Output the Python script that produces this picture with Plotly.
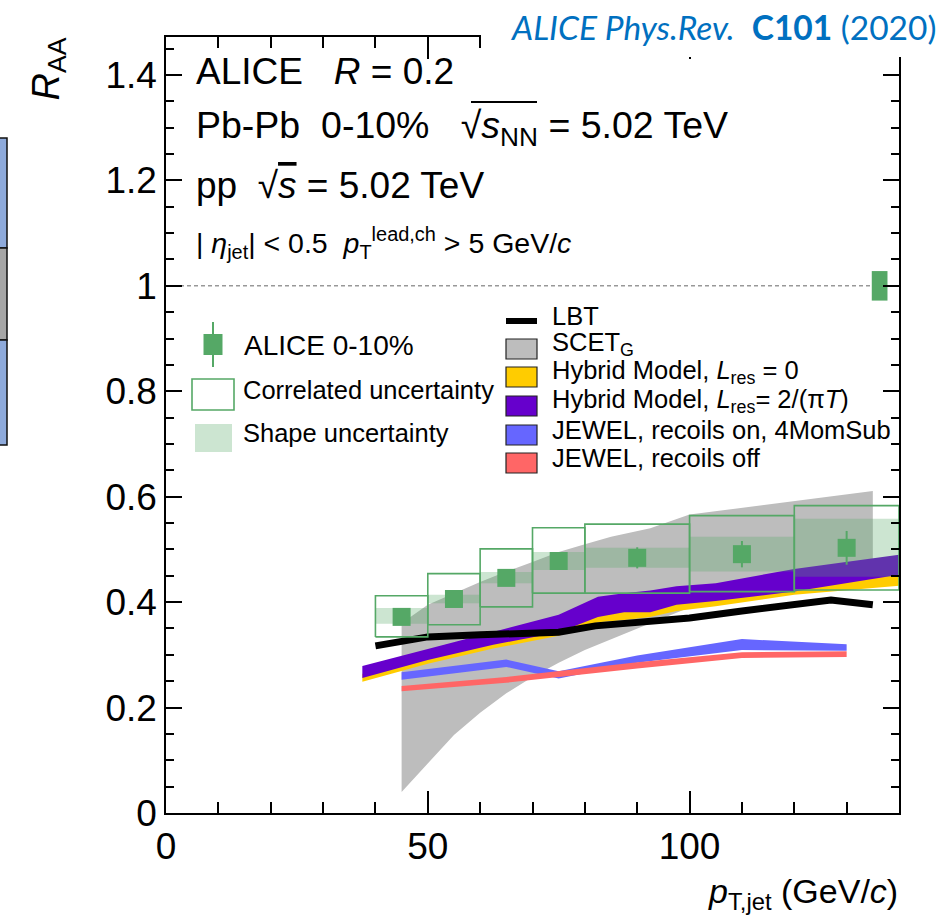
import plotly.graph_objects as go

# ---------------- data ----------------
# ALICE 0-10 % points
alice_x = [45, 55, 65, 75, 90, 110, 130]
alice_y = [0.372, 0.406, 0.446, 0.478, 0.484, 0.491, 0.503]
alice_stat = [0.010, 0.010, 0.011, 0.012, 0.020, 0.025, 0.032]
bin_lo = [40, 50, 60, 70, 80, 100, 120]
bin_hi = [50, 60, 70, 80, 100, 120, 140]
corr_lo = [0.334, 0.357, 0.391, 0.417, 0.417, 0.420, 0.423]
corr_hi = [0.412, 0.454, 0.501, 0.541, 0.548, 0.564, 0.583]
shape_lo = [0.359, 0.398, 0.436, 0.461, 0.465, 0.458, 0.448]
shape_hi = [0.389, 0.414, 0.457, 0.495, 0.503, 0.524, 0.558]
norm_x = [136.3]
norm_halfwidth = 1.5
norm_unc = 0.028
unity = 1.0

# LBT
lbt_x = [40, 50, 60, 70, 75, 82, 92, 100, 110, 120, 127, 135]
lbt_y = [0.317, 0.334, 0.338, 0.340, 0.343, 0.355, 0.362, 0.370, 0.383, 0.395, 0.404, 0.395]

# SCET_G
scet_x = [45, 50, 55, 60, 65, 70, 75, 80, 85, 92.5, 100, 110, 120, 135]
scet_lo = [0.040, 0.095, 0.148, 0.190, 0.227, 0.258, 0.285, 0.309, 0.330, 0.360, 0.390, 0.410, 0.425, 0.440]
scet_hi = [0.360, 0.395, 0.417, 0.438, 0.458, 0.476, 0.495, 0.510, 0.524, 0.540, 0.566, 0.580, 0.592, 0.611]

# Hybrid model
hyb_x = [37.5, 50, 62.5, 75, 82.5, 87.5, 92.5, 97.5, 105, 120, 140]
hyb0_lo = [0.249, 0.283, 0.312, 0.336, 0.362, 0.366, 0.372, 0.383, 0.392, 0.414, 0.431]
hyb0_hi = [0.264, 0.298, 0.327, 0.351, 0.380, 0.389, 0.389, 0.403, 0.410, 0.428, 0.456]
hyb2_lo = [0.256, 0.290, 0.319, 0.343, 0.372, 0.381, 0.381, 0.395, 0.402, 0.420, 0.452]
hyb2_hi = [0.279, 0.311, 0.343, 0.376, 0.410, 0.417, 0.422, 0.430, 0.436, 0.463, 0.490]

# JEWEL
jon_x = [45, 55, 65, 75, 90, 110, 130]
jon_lo = [0.253, 0.265, 0.277, 0.255, 0.285, 0.309, 0.308]
jon_hi = [0.267, 0.279, 0.291, 0.269, 0.299, 0.330, 0.320]
joff_x = [45, 65, 90, 110, 130]
joff_lo = [0.231, 0.247, 0.274, 0.294, 0.296]
joff_hi = [0.241, 0.258, 0.286, 0.305, 0.307]

# ---------------- colours ----------------
GREEN = "#55a866"
GREEN_BAND = "rgba(85,168,102,0.30)"
GRAY = "#bdbdbd"
YELLOW = "#ffcc00"
PURPLE = "#6600cc"
BLUE = "#6666ff"
RED = "#ff6666"
FONT = "Liberation Sans, Arial, Helvetica, sans-serif"

# ---------------- geometry helpers (layout, pixels -> paper) ----------------
W, H = 943, 922
L, R, T, B = 166, 899, 37, 813


def px(xp):
    return (xp - L) / (R - L)


def py(yp):
    return (B - yp) / (B - T)


def band(x, lo, hi):
    return list(x) + list(x)[::-1] + [x[0]], list(lo) + list(hi)[::-1] + [lo[0]]


def boxes(x0s, x1s, y0s, y1s):
    xs, ys = [], []
    for a, b, c, d in zip(x0s, x1s, y0s, y1s):
        xs += [a, b, b, a, a, None]
        ys += [c, c, d, d, c, None]
    return xs, ys


fig = go.Figure()


def add_band(x, lo, hi, color):
    bx, by = band(x, lo, hi)
    fig.add_trace(go.Scatter(x=bx, y=by, fill="toself", fillcolor=color, mode="lines",
                             line=dict(width=0, color=color), hoverinfo="skip", showlegend=False))


add_band(scet_x, scet_lo, scet_hi, GRAY)
add_band(hyb_x, hyb0_lo, hyb0_hi, YELLOW)
add_band(hyb_x, hyb2_lo, hyb2_hi, PURPLE)
fig.add_trace(go.Scatter(x=lbt_x, y=lbt_y, mode="lines", line=dict(color="black", width=7),
                         showlegend=False))
add_band(jon_x, jon_lo, jon_hi, BLUE)
add_band(joff_x, joff_lo, joff_hi, RED)

# shape uncertainty
sx, sy = boxes(bin_lo, bin_hi, shape_lo, shape_hi)
fig.add_trace(go.Scatter(x=sx, y=sy, fill="toself", fillcolor=GREEN_BAND, mode="lines",
                         line=dict(width=0, color=GREEN_BAND), showlegend=False))
# correlated uncertainty
cx, cy = boxes(bin_lo, bin_hi, corr_lo, corr_hi)
fig.add_trace(go.Scatter(x=cx, y=cy, mode="lines", line=dict(color=GREEN, width=1.6),
                         showlegend=False))
# normalisation uncertainty
nx, ny = boxes([v - norm_halfwidth for v in norm_x], [v + norm_halfwidth for v in norm_x],
               [unity - norm_unc], [unity + norm_unc])
fig.add_trace(go.Scatter(x=nx, y=ny, fill="toself", fillcolor=GREEN, mode="lines",
                         line=dict(width=0, color=GREEN), showlegend=False))
# data points
fig.add_trace(go.Scatter(x=alice_x, y=alice_y, mode="markers",
                         marker=dict(symbol="square", size=18, color=GREEN),
                         error_y=dict(type="data", array=alice_stat, color=GREEN, thickness=2, width=0),
                         showlegend=False))

shapes = []
annotations = []

# unity dashed line
shapes.append(dict(type="line", xref="x domain", yref="y", x0=0, x1=1, y0=unity, y1=unity,
                   line=dict(color="#666666", width=1, dash="4px,3px"), layer="below"))


def ann(text, xp, yp, size, xanchor="left", yanchor="middle", color="black", family=FONT, angle=0):
    annotations.append(dict(text=text, x=px(xp), y=py(yp), xref="paper", yref="paper",
                            xanchor=xanchor, yanchor=yanchor, showarrow=False, textangle=angle,
                            font=dict(size=size, color=color, family=family)))


NB = "\u00a0"
OL = '<span style="text-decoration:overline">'
# header text
ann("ALICE" + NB * 3 + "<i>R</i> = 0.2", 194, 72, 37)
ann("Pb-Pb" + NB * 2 + "0-10%" + NB * 3 + "√<i>s</i><sub>NN</sub>" + NB + "= 5.02 TeV",
    194, 128, 37.5)
# overline of the square root above s_NN
shapes.append(dict(type="line", xref="paper", yref="paper", x0=px(471), x1=px(537), y0=py(102), y1=py(102),
                   line=dict(color="black", width=2)))
ann("pp" + NB * 2 + "√" + OL + "<i>s</i></span> = 5.02 TeV", 194, 185, 37)
ann("|" + NB + "<i>η</i><sub>jet</sub>|" + NB + "<" + NB + "0.5" + NB * 2 +
    "<i>p</i><sub>T</sub><sup>lead,ch</sup>" + NB + ">" + NB + "5 GeV/<i>c</i>",
    194, 243, 28.5)

# left legend
shapes.append(dict(type="rect", xref="paper", yref="paper", x0=px(203.5), x1=px(222.5), y0=py(355), y1=py(334),
                   fillcolor=GREEN, line=dict(width=0)))
shapes.append(dict(type="line", xref="paper", yref="paper", x0=px(213), x1=px(213), y0=py(367), y1=py(322),
                   line=dict(color=GREEN, width=2)))
ann("ALICE 0-10%", 242, 345, 28)
shapes.append(dict(type="rect", xref="paper", yref="paper", x0=px(192), x1=px(234), y0=py(410), y1=py(379),
                   fillcolor="white", line=dict(color=GREEN, width=1.6)))
ann("Correlated uncertainty", 241, 390, 25.5)
shapes.append(dict(type="rect", xref="paper", yref="paper", x0=px(195), x1=px(232), y0=py(452), y1=py(424),
                   fillcolor=GREEN_BAND, line=dict(width=0)))
ann("Shape uncertainty", 241, 433, 25.5)

# right legend
shapes.append(dict(type="line", xref="paper", yref="paper", x0=px(506), x1=px(537), y0=py(321), y1=py(321),
                   line=dict(color="black", width=6)))
ann("LBT", 550, 316, 25.5)
leg_items = [(349, GRAY, "SCET<sub>G</sub>"),
             (377, YELLOW, "Hybrid Model, <i>L</i><sub>res</sub> = 0"),
             (406, PURPLE, "Hybrid Model, <i>L</i><sub>res</sub>= 2/(π<i>T</i>)"),
             (435, BLUE, "JEWEL, recoils on, 4MomSub"),
             (463, RED, "JEWEL, recoils off")]
for yc, col, txt in leg_items:
    shapes.append(dict(type="rect", xref="paper", yref="paper", x0=px(506), x1=px(537), y0=py(yc + 10),
                       y1=py(yc - 10), fillcolor=col, line=dict(color="#222222", width=1.2)))
    ann(txt, 550, yc - 5, 25.5)

# axis titles
ann("<i>p</i><sub>T,jet</sub> (GeV/<i>c</i>)", 900, 893, 34, xanchor="right")
ann("<i>R</i><sub>AA</sub>", 48, 36, 38, xanchor="center", yanchor="top", angle=-90)

# white cover behind citation + citation
shapes.append(dict(type="rect", xref="paper", yref="paper", x0=px(481), x1=px(960), y0=py(57), y1=py(-10),
                   fillcolor="white", line=dict(width=0), layer="above"))
ann("<i>ALICE Phys.Rev.</i>" + NB * 2 + "<b>C101</b> (2020)", 938, 27, 33.5, xanchor="right",
    color="#0070c0", family="Lato, Open Sans, sans-serif")

# slide fragments at left edge
for y0, y1, col in [(138, 248, "#8eaadb"), (248, 340, "#a6a6a6"), (340, 445, "#8eaadb")]:
    shapes.append(dict(type="rect", xref="paper", yref="paper", x0=px(-5), x1=px(7), y0=py(y1), y1=py(y0),
                       fillcolor=col, line=dict(color="#111111", width=1.5)))

axis_common = dict(showline=True, linecolor="black", linewidth=1.5, mirror="ticks", ticks="inside",
                   tickcolor="black", tickwidth=1.5, showgrid=False, zeroline=False,
                   tickfont=dict(size=37, family=FONT, color="black"))
fig.update_layout(
    width=W, height=H,
    margin=dict(l=L, r=W - R, t=T, b=H - B),
    paper_bgcolor="white", plot_bgcolor="white",
    showlegend=False,
    shapes=shapes, annotations=annotations,
    xaxis=dict(range=[0, 140], dtick=50, tick0=0, ticklen=22,
               minor=dict(dtick=10, ticklen=11, tickwidth=1.5, tickcolor="black", ticks="inside"),
               **axis_common),
    yaxis=dict(range=[0, 1.472], dtick=0.2, tick0=0, ticklen=16,
               minor=dict(dtick=0.05, ticklen=8, tickwidth=1.5, tickcolor="black", ticks="inside"),
               **axis_common),
)

fig.write_html("out.html", config={"displayModeBar": False},
               post_script="document.body.style.margin='0';document.body.style.overflow='hidden';")
